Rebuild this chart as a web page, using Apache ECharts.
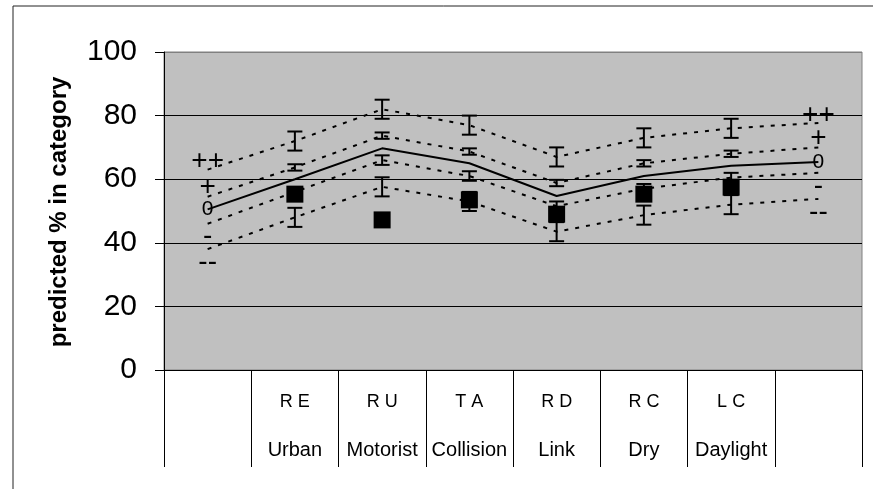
<!DOCTYPE html>
<html>
<head>
<meta charset="utf-8">
<script src="https://cdn.jsdelivr.net/npm/echarts@6/dist/echarts.min.js"></script>
<style>
  html, body { margin: 0; padding: 0; background: #fff; }
  #chart { width: 873px; height: 489px; }
</style>
</head>
<body>
<div id="chart"></div>
<script>
// category labels (two rows under the axis)
const codes = ['', 'R E', 'R U', 'T A', 'R D', 'R C', 'L C', ''];
const names = ['', 'Urban', 'Motorist', 'Collision', 'Link', 'Dry', 'Daylight', ''];

// predicted % per scenario line
const zero = [50.5, 60, 69.7, 65, 54.7, 61, 64.2, 65.4];
const plusPlus = [63, 72, 82, 77, 67, 73, 76, 77.7];
const plus = [54.5, 63.7, 73.7, 68.7, 58.8, 65, 68, 70];
const minus = [46, 56, 66, 61, 51.5, 57, 60.5, 62];
const minusMinus = [38, 48, 57.6, 53, 43.5, 48.7, 52, 53.8];

// error bar half widths
const errPlusPlus = [null, 3, 3, 3, 3, 3, 3, null];
const errPlus = [null, 1, 1, 1, 1, 1, 1, null];
const errMinus = [null, 1.5, 1.5, 1.5, 1.5, 1.5, 1.5, null];
const errMinusMinus = [null, 3, 3, 3, 3, 3, 3, null];

// observed values (black squares)
const observed = [null, 55.3, 47.2, 53.5, 49, 55.3, 57.5, null];

const yTicks = [0, 20, 40, 60, 80, 100];

const FONT = '"Liberation Sans", Arial, sans-serif';

function withEndLabels(vals, text, dy) {
  return vals.map(function (v, i) {
    if (i === 0 || i === vals.length - 1) {
      return { value: v, label: { show: true, formatter: text, offset: [0, dy] } };
    }
    return v;
  });
}

function errData(vals, errs) {
  const out = [];
  vals.forEach(function (v, i) {
    if (errs[i] != null) out.push([i, v - errs[i], v + errs[i]]);
  });
  return out;
}

const allErr = []
  .concat(errData(plusPlus, errPlusPlus))
  .concat(errData(plus, errPlus))
  .concat(errData(minus, errMinus))
  .concat(errData(minusMinus, errMinusMinus));

const dashed = { color: '#000', width: 2, type: [4, 7] };

function lineSeries(name, vals, text, dy, style, fs) {
  return {
    name: name,
    type: 'line',
    data: withEndLabels(vals, text, dy),
    symbol: 'circle',
    symbolSize: 1,
    itemStyle: { color: 'rgba(0,0,0,0)' },
    lineStyle: style,
    label: {
      show: false,
      position: 'inside',
      color: '#000',
      fontSize: fs,
      fontFamily: FONT
    },
    z: 3
  };
}

const myChart = echarts.init(document.getElementById('chart'), null, { renderer: 'canvas' });

const option = {
  animation: false,
  backgroundColor: '#fff',
  grid: {
    left: 164,
    top: 52,
    right: 11,
    bottom: 119,
    show: true,
    backgroundColor: '#c0c0c0',
    borderColor: '#808080',
    borderWidth: 1
  },
  graphic: [
    {
      type: 'rect',
      shape: { x: 13, y: 6, width: 900, height: 520 },
      style: { fill: 'none', stroke: '#222', lineWidth: 1 },
      silent: true
    },
    {
      type: 'text',
      x: 59,
      y: 212,
      rotation: Math.PI / 2,
      style: {
        text: 'predicted % in category',
        font: 'bold 24px ' + FONT,
        fill: '#000',
        textAlign: 'center',
        textVerticalAlign: 'middle'
      }
    }
  ],
  xAxis: {
    type: 'category',
    data: names,
    boundaryGap: true,
    axisLine: { lineStyle: { color: '#000', width: 1 } },
    axisTick: { show: true, interval: 0, length: 97, lineStyle: { color: '#000' } },
    axisLabel: {
      interval: 0,
      margin: 8,
      formatter: function (v, i) {
        if (!codes[i]) return '';
        return '{a|' + codes[i] + '}\n{b|' + names[i] + '}';
      },
      rich: {
        a: { fontSize: 18, lineHeight: 48, fontFamily: FONT, color: '#000' },
        b: { fontSize: 20, lineHeight: 48, fontFamily: FONT, color: '#000' }
      }
    },
    splitLine: { show: false }
  },
  yAxis: {
    type: 'value',
    min: yTicks[0],
    max: yTicks[yTicks.length - 1],
    interval: 20,
    axisLine: { show: true, lineStyle: { color: '#000', width: 1 } },
    axisTick: { show: true, length: 9, lineStyle: { color: '#000' } },
    axisLabel: { fontSize: 30, fontFamily: FONT, color: '#000', margin: 27 },
    splitLine: {
      show: true,
      lineStyle: { color: ['#000', '#000', '#000', '#000', '#000', '#808080'], width: 1 }
    }
  },
  series: [
    lineSeries('++', plusPlus, '++', -8, dashed, 28),
    lineSeries('+', plus, '+', -9, dashed, 28),
    lineSeries('-', minus, '-', 13, dashed, 28),
    lineSeries('--', minusMinus, '--', 13, dashed, 28),
    lineSeries('0', zero, '0', 0, { color: '#000', width: 2, type: 'solid' }, 21),
    {
      name: 'error',
      type: 'custom',
      data: allErr,
      z: 4,
      renderItem: function (params, api) {
        const x = api.value(0);
        const lo = api.coord([x, api.value(1)]);
        const hi = api.coord([x, api.value(2)]);
        const hw = 7.5;
        const st = { stroke: '#000', lineWidth: 2 };
        return {
          type: 'group',
          children: [
            { type: 'line', shape: { x1: lo[0], y1: lo[1], x2: hi[0], y2: hi[1] }, style: st },
            { type: 'line', shape: { x1: lo[0] - hw, y1: lo[1], x2: lo[0] + hw, y2: lo[1] }, style: st },
            { type: 'line', shape: { x1: hi[0] - hw, y1: hi[1], x2: hi[0] + hw, y2: hi[1] }, style: st }
          ]
        };
      }
    },
    {
      name: 'observed',
      type: 'scatter',
      data: observed.map(function (v, i) { return v == null ? null : [i, v]; }).filter(Boolean),
      symbol: 'rect',
      symbolSize: 17,
      itemStyle: { color: '#000', opacity: 1 },
      z: 5
    }
  ]
};

myChart.setOption(option);
</script>
</body>
</html>
